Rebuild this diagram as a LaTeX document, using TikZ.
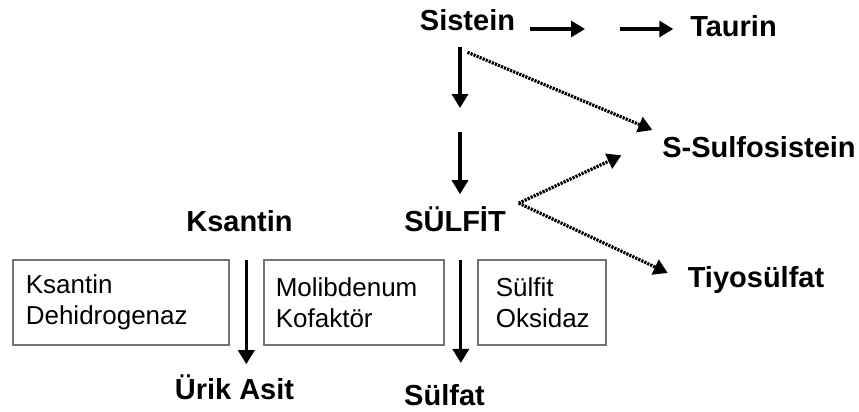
\documentclass[tikz,border=0pt]{standalone}
\usepackage{fontspec}
\setmainfont{Liberation Sans}
\usetikzlibrary{arrows.meta, calc}

\begin{document}
\begin{tikzpicture}[x=1pt,y=-1pt,
    arr/.style={-{Triangle[width=16pt,length=14pt]},line width=3.3pt},
    dotarr/.style={-{Triangle[width=16pt,length=14pt]},line width=3.2pt,dash pattern=on 2.2pt off 1.1pt}]
  \tikzstyle{lbl}=[font=\fontsize{29}{30}\selectfont\bfseries, inner sep=0pt, outer sep=0pt, anchor=base]
  \tikzstyle{enzyme}=[draw=black!55, line width=1.6pt, anchor=north west, minimum height=85pt, align=left, font=\fontsize{26}{31}\selectfont, inner xsep=13pt]

  \useasboundingbox (0,0) rectangle (859,412);

  % metabolites
  \node[lbl] (sistein) at (467.5,31) {Sistein};
  \node[lbl] (taurin) at (733.5,37) {Taurin};
  \node[lbl] (ssulfo) at (759,157) {S-Sulfosistein};
  \node[lbl] (sulfit) at (455,231) {SÜLFİT};
  \node[lbl] (ksantin) at (239.5,231) {Ksantin};
  \node[lbl] (tiyo) at (756,287) {Tiyosülfat};
  \node[lbl] (urik) at (234.5,399) {Ürik Asit};
  \node[lbl] (sulfat) at (444.5,405) {Sülfat};

  % enzymes
  \node[enzyme, text width=190pt] (xdh) at (12,259) {Ksantin\\Dehidrogenaz};
  \node[enzyme, text width=156pt, inner xsep=12pt] (moco) at (263,259) {Molibdenum\\Kofaktör};
  \node[enzyme, text width=92pt, inner xsep=18pt] (sox) at (477,259) {Sülfit\\Oksidaz};

  \coordinate (h1) at (585,29);
  \coordinate (h2) at (620,29);
  \coordinate (m1) at (460,108);
  \coordinate (m2) at (460,132);
  \coordinate (k1) at ($(xdh.east)!0.5!(moco.west)$);
  \coordinate (s1) at ($(moco.east)!0.5!(sox.west)$);
  \coordinate (sv) at ([xshift=13pt,yshift=3pt]sulfit.north east);

  \draw[arr, shorten <=15pt] (sistein.east |- h1) -- (h1);
  \draw[arr, shorten >=17pt] (h2) -- (taurin.west |- h2);
  \draw[arr, shorten <=16pt] (sistein.south -| m1) -- (m1);
  \draw[arr, shorten >=12pt] (m2) -- (sulfit.north -| m2);
  \draw[arr, shorten <=29pt, shorten >=10pt] (ksantin.south -| k1) -- (urik.north -| k1);
  \draw[arr, shorten <=29pt, shorten >=21pt] (sulfit.south -| s1) -- (sulfat.north -| s1);

  \draw[dotarr] ([yshift=-21pt]sistein.south) -- ([xshift=-10pt,yshift=6pt]ssulfo.north west);
  \draw[dotarr] (sv) -- ([xshift=-41pt,yshift=2pt]ssulfo.south west);
  \draw[dotarr] (sv) -- ([xshift=-20pt,yshift=-7pt]tiyo.north west);
\end{tikzpicture}
\end{document}
